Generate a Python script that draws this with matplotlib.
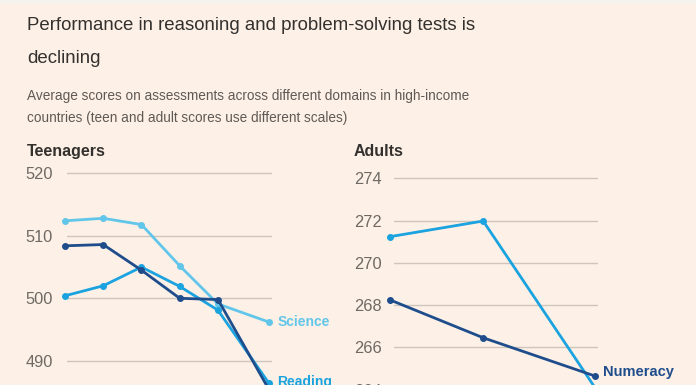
import matplotlib
matplotlib.use("Agg")
import matplotlib.pyplot as plt
from matplotlib.patches import Rectangle

# teenagers (PISA)
teen_years = [2006, 2009, 2012, 2015, 2018, 2022]
science = [512.4, 512.8, 511.8, 505.2, 499.1, 496.2]
maths = [508.4, 508.6, 504.5, 500.0, 499.8, 485.4]
reading = [500.4, 502.0, 505.0, 501.9, 498.1, 486.4]
teen_ticks = [490, 500, 510, 520]

# adults (PIAAC)
adult_years = [2012, 2017, 2023]
literacy = [271.24, 271.98, 264.1]
numeracy = [268.25, 266.46, 264.65]
adult_ticks = [264, 266, 268, 270, 272, 274]

BG = "#fdf1e7"
GRID = "#cfc5bc"
TICK = "#6e6964"
DARK = "#33302e"
LIGHT_BLUE = "#62c6ea"
MID_BLUE = "#1ba3df"
NAVY = "#1f4d8c"

W, H = 696, 385
plain = ["Liberation Sans", "DejaVu Sans"]

fig = plt.figure(figsize=(W / 100, H / 100), dpi=100, facecolor=BG)
fig.patches.append(Rectangle((0, 1 - 3 / H), 1, 3 / H, transform=fig.transFigure,
                             color="#f6f2ee", zorder=0))


def px(x, y):
    return x / W, 1 - y / H


fig.text(*px(27, 30), "Performance in reasoning and problem-solving tests is",
         family=plain, fontsize=13.4, color=DARK, va="baseline")
fig.text(*px(27, 63), "declining", family=plain, fontsize=13.4, color=DARK, va="baseline")
fig.text(*px(27, 100), "Average scores on assessments across different domains in high-income",
         family=plain, fontsize=9.8, color="#5f5955", va="baseline")
fig.text(*px(27, 122), "countries (teen and adult scores use different scales)",
         family=plain, fontsize=9.8, color="#5f5955", va="baseline")
fig.text(*px(27, 156), "Teenagers", family=plain, fontsize=11.5, weight="bold",
         color=DARK, va="baseline")
fig.text(*px(354, 156), "Adults", family=plain, fontsize=11.5, weight="bold",
         color=DARK, va="baseline")


def make_axes(x0, x1, ytop_px, ytop_val, px_per_unit, ybot_val, pad):
    ybot_px = ytop_px + (ytop_val - ybot_val) * px_per_unit
    ax = fig.add_axes([x0 / W, 1 - ybot_px / H, (x1 - x0) / W, (ybot_px - ytop_px) / H])
    ax.set_facecolor("none")
    for s in ax.spines.values():
        s.set_visible(False)
    ax.set_ylim(ybot_val, ytop_val)
    ax.grid(axis="y", color=GRID, linewidth=1)
    ax.set_axisbelow(True)
    ax.tick_params(axis="y", length=0, pad=pad, labelsize=11.8, labelcolor=TICK)
    ax.tick_params(axis="x", length=0, labelbottom=False)
    return ax


# left panel: 520 at y=173.3, 6.25 px per point
ax1 = make_axes(67, 272, 160.8, 522, 6.25, 470, 10)
ax1.set_xlim(2006.16, 2022.24)
ax1.set_yticks(teen_ticks)
ax1.set_yticklabels([str(v) for v in teen_ticks], family=plain)
for vals, col in [(science, LIGHT_BLUE), (reading, MID_BLUE), (maths, NAVY)]:
    ax1.plot(teen_years, vals, color=col, lw=2, marker="o", ms=4, clip_on=False,
             solid_joinstyle="round")
ax1.annotate("Science", (teen_years[-1], science[-1]), xytext=(6, 0),
             textcoords="offset points", va="center", color=LIGHT_BLUE,
             fontsize=10, weight="bold", family=plain, annotation_clip=False)
ax1.annotate("Reading", (teen_years[-1], reading[-1]), xytext=(6, 1),
             textcoords="offset points", va="center", color=MID_BLUE,
             fontsize=10, weight="bold", family=plain, annotation_clip=False)

# right panel: 274 at y=178.3, 21.15 px per point
ax2 = make_axes(394, 598, 165.6, 274.6, 21.15, 262, 9)
ax2.set_xlim(2012.215, 2023.16)
ax2.set_yticks(adult_ticks)
ax2.set_yticklabels([str(v) for v in adult_ticks], family=plain)
for vals, col in [(literacy, MID_BLUE), (numeracy, NAVY)]:
    ax2.plot(adult_years, vals, color=col, lw=2, marker="o", ms=4, clip_on=False,
             solid_joinstyle="round")
ax2.annotate("Numeracy", (adult_years[-1], numeracy[-1]), xytext=(6, 3),
             textcoords="offset points", va="center", color=NAVY,
             fontsize=10.5, weight="bold", family=plain, annotation_clip=False)
ax2.annotate("Literacy", (adult_years[-1], literacy[-1]), xytext=(6, -8),
             textcoords="offset points", va="center", color=MID_BLUE,
             fontsize=10.5, weight="bold", family=plain, annotation_clip=False)

fig.savefig("out.png", dpi=100, facecolor=BG)
